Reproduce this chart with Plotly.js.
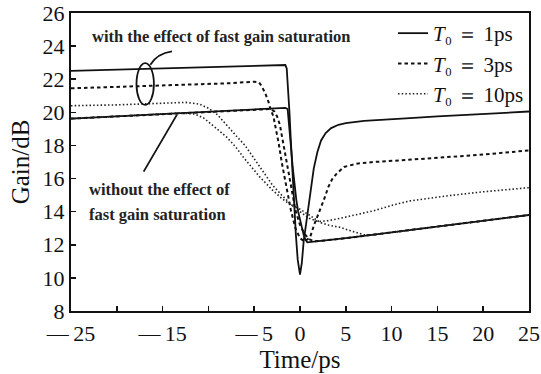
<!DOCTYPE html>
<html><head><meta charset="utf-8">
<script src="https://cdn.plot.ly/plotly-3.0.1.min.js"></script>
<style>html,body{margin:0;padding:0;background:#fff}#chart{width:541px;height:374px}</style>
</head><body><div id="chart"></div>
<script>
// T0 = 1 ps, with fast gain saturation
const t1With = [-25,-20,-15,-10,-5,-2.5,-1.8,-1.6,-1.45,-1.3,-1.15,-1.0,-0.85,-0.65,-0.45,-0.25,0,0.2,0.4,0.75,1.1,1.5,1.9,2.3,2.8,3.4,4.2,5,7,8.7,12,15,20,25];
const g1With = [22.5,22.58,22.66,22.74,22.82,22.88,22.9,22.86,22.65,21.5,20.0,18.3,16.6,14.5,12.6,11.1,10.2,10.9,12.2,13.6,15.1,16.6,17.6,18.3,18.75,19.05,19.25,19.35,19.48,19.55,19.65,19.75,19.9,20.05];
// T0 = 1 ps, without fast gain saturation
const t1Without = [-25,-15,-5,-1.6,-1.35,-1.2,-1.0,-0.8,-0.6,-0.4,-0.2,0,0.2,0.4,0.6,0.8,2,5,10,15,20,25];
const g1Without = [19.62,19.9,20.18,20.27,20.2,19.4,18.0,16.7,15.6,14.7,14.0,13.5,13.0,12.6,12.3,12.15,12.22,12.4,12.75,13.1,13.45,13.8];
// T0 = 3 ps, with
const t3With = [-25,-15,-8,-5,-4.5,-4.2,-3.8,-3.45,-3.25,-2.9,-2.7,-2.5,-2.3,-2.0,-1.5,-1.0,-0.5,0,0.5,1.1,1.6,2.2,2.6,3.1,3.5,4.0,4.8,6.2,8,11,15,20,25];
const g3With = [21.45,21.62,21.75,21.85,21.82,21.6,21.16,20.65,20.25,19.75,19.25,18.65,18.05,17.0,15.5,14.1,13.0,12.4,12.2,12.45,13.3,14.1,14.7,15.5,15.95,16.3,16.7,16.9,17.0,17.1,17.25,17.45,17.7];
// T0 = 3 ps, without
const t3Without = [-25,-15,-5,-3.2,-2.8,-2.5,-2.2,-2.0,-1.8,-1.5,-1.0,-0.5,0,0.5,1.0,1.5,2.5,5,10,15,20,25];
const g3Without = [19.62,19.9,20.18,20.2,20.05,19.75,19.25,18.65,18.0,17.0,15.4,14.1,13.2,12.65,12.35,12.2,12.25,12.4,12.75,13.1,13.45,13.8];
// T0 = 10 ps, with
const t10With = [-25,-20,-15,-12.5,-11,-10,-9,-8,-7,-6,-5,-4,-3,-2,-1,0,1,2,3,4.4,6,8,10.5,12,16,20,25];
const g10With = [20.4,20.45,20.55,20.6,20.5,20.25,19.85,19.2,18.6,18.0,17.2,16.4,15.6,15.0,14.45,14.0,13.6,13.4,13.45,13.6,13.8,14.05,14.45,14.65,14.95,15.2,15.45];
// T0 = 10 ps, without
const t10Without = [-25,-15,-13,-11.5,-10.5,-9.5,-8,-7,-6.2,-5,-4.4,-3,-2,-1,0,1,2.2,3,4.4,5.5,7,8,10,15,20,25];
const g10Without = [19.62,19.9,19.96,19.9,19.65,19.2,18.5,17.9,17.3,16.5,16.1,15.3,14.8,14.4,14.15,13.8,13.35,13.2,13.05,12.85,12.6,12.6,12.75,13.1,13.45,13.8];

const legendNames = ['<i>T</i>\u2080 \uFF1D 1ps','<i>T</i>\u2080 \uFF1D 3ps','<i>T</i>\u2080 \uFF1D 10ps'];
const xTickVals = [-25,-20,-15,-10,-5,0,5,10,15,20,25];
const xTickText = ['\u2014\u200925','','\u2014\u200915','','\u2014\u20095','0','5','10','15','20','25'];
const yTickVals = [8,10,12,14,16,18,20,22,24,26];

const serif = 'Liberation Serif, Times New Roman, serif';
const solid = {color:'#111', width:1.8, dash:'solid'};
const dashed = {color:'#111', width:2, dash:'3.5px,3px'};
const dotted = {color:'#222', width:1.6, dash:'1.5px,2.2px'};

const traces = [
  {x:t1With, y:g1With, mode:'lines', line:solid, name:legendNames[0], legendgroup:'a'},
  {x:t1Without, y:g1Without, mode:'lines', line:solid, name:legendNames[0], legendgroup:'a', showlegend:false},
  {x:t3With, y:g3With, mode:'lines', line:dashed, name:legendNames[1], legendgroup:'b'},
  {x:t3Without, y:g3Without, mode:'lines', line:dashed, name:legendNames[1], legendgroup:'b', showlegend:false},
  {x:t10With, y:g10With, mode:'lines', line:dotted, name:legendNames[2], legendgroup:'c'},
  {x:t10Without, y:g10Without, mode:'lines', line:dotted, name:legendNames[2], legendgroup:'c', showlegend:false}
];

const layout = {
  width:541, height:374,
  margin:{l:71, r:12, t:13, b:63},
  paper_bgcolor:'#fff', plot_bgcolor:'#fff',
  font:{family:serif, color:'#111', size:22},
  showlegend:true,
  legend:{x:1.0, xanchor:'right', y:1.0, yanchor:'top', bgcolor:'rgba(0,0,0,0)', font:{family:serif, size:21, color:'#111'}, tracegroupgap:0, itemwidth:30},
  xaxis:{range:[-25,25], tickvals:xTickVals, ticktext:xTickText, ticks:'inside', ticklen:5, tickwidth:1.5, tickcolor:'#111',
    showline:true, linecolor:'#111', linewidth:2, mirror:true, showgrid:false, zeroline:false, ticklabelstandoff:2,
    tickfont:{family:serif, size:22}, title:{text:'Time/ps', font:{family:serif, size:25}, standoff:2}},
  yaxis:{range:[8,26], tickvals:yTickVals, ticks:'inside', ticklen:5, tickwidth:1.5, tickcolor:'#111',
    showline:true, linecolor:'#111', linewidth:2, mirror:true, showgrid:false, zeroline:false,
    tickfont:{family:serif, size:22}, title:{text:'Gain/dB', font:{family:serif, size:25}, standoff:6}},
  annotations:[
    {x:-22.9, y:24.58, xref:'x', yref:'y', xanchor:'left', yanchor:'middle', showarrow:false, text:'<b>with the effect of fast gain saturation</b>', font:{family:serif, size:16.5, color:'#222'}},
    {x:-23.3, y:15.31, xref:'x', yref:'y', xanchor:'left', yanchor:'middle', showarrow:false, text:'<b>without the effect of</b>', font:{family:serif, size:16.5, color:'#222'}},
    {x:-23.3, y:13.8, xref:'x', yref:'y', xanchor:'left', yanchor:'middle', showarrow:false, text:'<b>fast gain saturation</b>', font:{family:serif, size:16.5, color:'#222'}}
  ],
  shapes:[
    {type:'circle', xref:'x', yref:'y', x0:-17.85, x1:-15.95, y0:20.45, y1:22.97, line:{color:'#111', width:1.8}},
    {type:'path', xref:'x', yref:'y', path:'M -16.34,22.87 Q -15.6,23.55 -13.98,23.68', line:{color:'#111', width:1.8}},
    {type:'line', xref:'x', yref:'y', x0:-17.07, y0:16.42, x1:-13.43, y1:19.86, line:{color:'#111', width:1.8}}
  ]
};
Plotly.newPlot('chart', traces, layout, {staticPlot:true, displayModeBar:false});
</script></body></html>
